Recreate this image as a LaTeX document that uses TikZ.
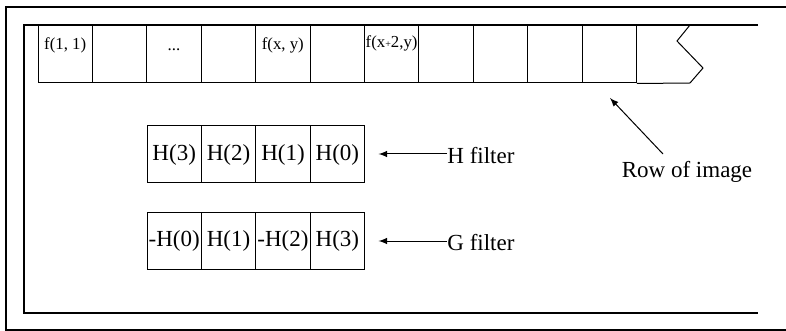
\documentclass[tikz,border=0pt]{standalone}
\usepackage{fontspec}
\setmainfont{Liberation Serif}
\usetikzlibrary{arrows, positioning}

\tikzset{
  cell/.style={draw, line width=0.5pt, minimum width=27.2pt, minimum height=29pt, inner sep=0pt},
  fcell/.style={draw, line width=0.5pt, minimum width=27.2pt, minimum height=28.5pt, inner sep=0pt, outer sep=0pt, font=\fontsize{11.5}{13}\selectfont},
  small/.style={font=\fontsize{8.4}{10}\selectfont, inner sep=0pt},
  big/.style={font=\fontsize{11.5}{13}\selectfont, inner sep=0pt},
  frame/.style={line width=1pt}
}

\begin{document}
\begin{tikzpicture}[x=0.5pt, y=-0.5pt]
  \useasboundingbox (0,0) rectangle (786,331);

  % row of image
  \foreach \i in {0,...,10}
    \node[cell] (c\i) at (65.2+54.4*\i, 54) {};
  \draw[line width=0.5pt] (c10.south east) -- (690,83) -- (703,68) -- (677,41) -- (690,25);

  \node[small] (f11) at (c0 |- 0,45) {f(1, 1)};
  \node[small] (dots) at (c2 |- 0,50) {...};
  \node[small] (fxy) at (c4 |- 0,45) {f(x, y)};
  \node[small] (fx2) at (c6 |- 0,43) {f(x{\fontsize{5}{5}\selectfont+}2,y)};

  % frames
  \draw[frame] (786,7) -- (6,7) -- (6,329.5) -- (786,329.5);
  \draw[frame] (758,25) -- (24,25) -- (24,313) -- (758,313);

  % filters
  \node[fcell] (h3) at (174.2,154.5) {H(3)};
  \node[fcell, right=0pt of h3.east, anchor=west] (h2) {H(2)};
  \node[fcell, right=0pt of h2.east, anchor=west] (h1) {H(1)};
  \node[fcell, right=0pt of h1.east, anchor=west] (h0) {H(0)};

  \node[fcell] (g0) at (174.2,241) {-H(0)};
  \node[fcell, right=0pt of g0.east, anchor=west] (g1) {H(1)};
  \node[fcell, right=0pt of g1.east, anchor=west] (g2) {-H(2)};
  \node[fcell, right=0pt of g2.east, anchor=west] (g3) {H(3)};

  \node[big, anchor=west] (hlbl) at (447,156) {H filter};
  \node[big, anchor=west] (glbl) at (447,243) {G filter};
  \node[big] (rowlbl) at (687,172) {Row of image};

  \draw[-latex, line width=0.5pt] (hlbl.west |- 0,154) -- ([xshift=7pt]h0.east |- 0,154);
  \draw[-latex, line width=0.5pt] (glbl.west |- 0,241) -- ([xshift=7pt]g3.east |- 0,241);

  \coordinate (rowtail) at (663,154);
  \coordinate (rowtip) at (610,98);
  \draw[-latex, line width=0.5pt] (rowtail) -- (rowtip);
\end{tikzpicture}
\end{document}
